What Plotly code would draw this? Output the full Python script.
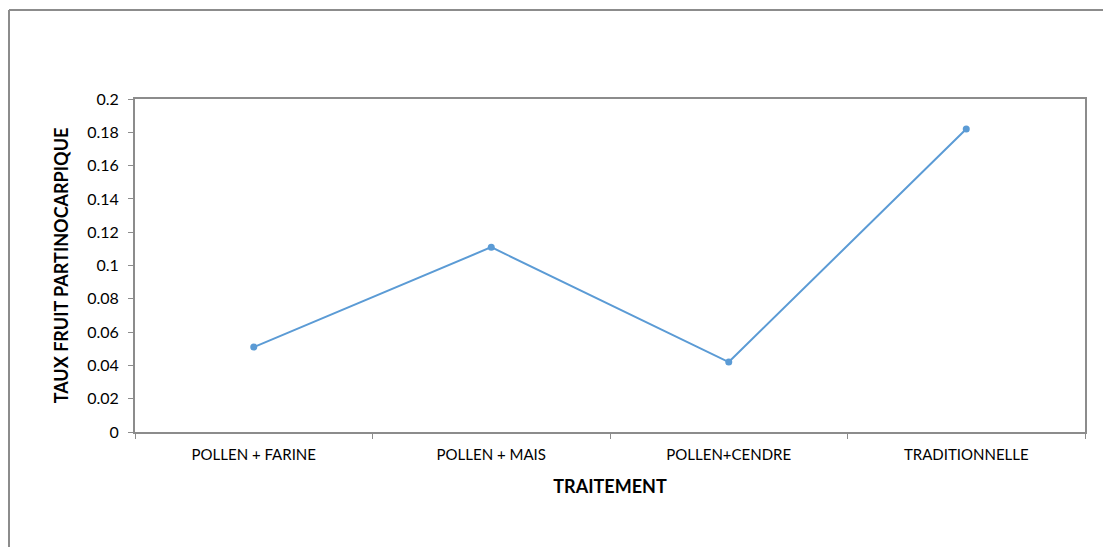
import plotly.graph_objects as go

# Treatments and parthenocarpic fruit rate
traitements = ["POLLEN + FARINE", "POLLEN + MAIS", "POLLEN+CENDRE", "TRADITIONNELLE"]
taux = [0.051, 0.111, 0.042, 0.182]

W, H = 1103, 547
L, R, T, B = 135, 18, 99, 115
pw, ph = W - L - R, H - T - B

def px(x):
    return (x - L) / pw

def py(y):
    return (H - B - y) / ph

line_color = "#5B9BD5"
axis_color = "#8C8C8C"
font_family = "Lato, Calibri, Carlito, 'Open Sans', sans-serif"

fig = go.Figure(
    go.Scatter(
        x=traitements,
        y=taux,
        mode="lines+markers",
        line=dict(color=line_color, width=2),
        marker=dict(color=line_color, size=7),
        hoverinfo="skip",
    )
)

fig.update_layout(
    width=W,
    height=H,
    margin=dict(l=L, r=R, t=T, b=B),
    paper_bgcolor="white",
    plot_bgcolor="white",
    showlegend=False,
    font=dict(family=font_family, size=14, color="#000000"),
    xaxis=dict(
        type="category",
        tickson="boundaries",
        ticks="outside",
        ticklen=5,
        tickcolor=axis_color,
        showline=True,
        linecolor=axis_color,
        linewidth=2,
        mirror=True,
        showgrid=False,
        tickfont=dict(size=15),
        ticklabelstandoff=8,
        title=dict(text="<b>TRAITEMENT</b>", font=dict(size=18), standoff=18),
        range=[-0.5, 3.5],
    ),
    yaxis=dict(
        range=[0, 0.2],
        dtick=0.02,
        tickformat="~g",
        ticks="outside",
        ticklen=5,
        tickcolor=axis_color,
        showline=True,
        linecolor=axis_color,
        linewidth=2,
        mirror=True,
        showgrid=False,
        zeroline=False,
        tickfont=dict(size=16),
        ticklabelstandoff=6,
        title=dict(text="<b>TAUX FRUIT PARTINOCARPIQUE</b>", font=dict(size=18), standoff=14),
    ),
    shapes=[
        # outer chart frame (left and top edges visible)
        dict(type="line", xref="paper", yref="paper",
             x0=px(9), y0=py(10), x1=px(W + 5), y1=py(10),
             line=dict(color=axis_color, width=2)),
        dict(type="line", xref="paper", yref="paper",
             x0=px(9), y0=py(10), x1=px(9), y1=py(H + 5),
             line=dict(color=axis_color, width=2)),
    ],
)

fig.write_html("out.html")
